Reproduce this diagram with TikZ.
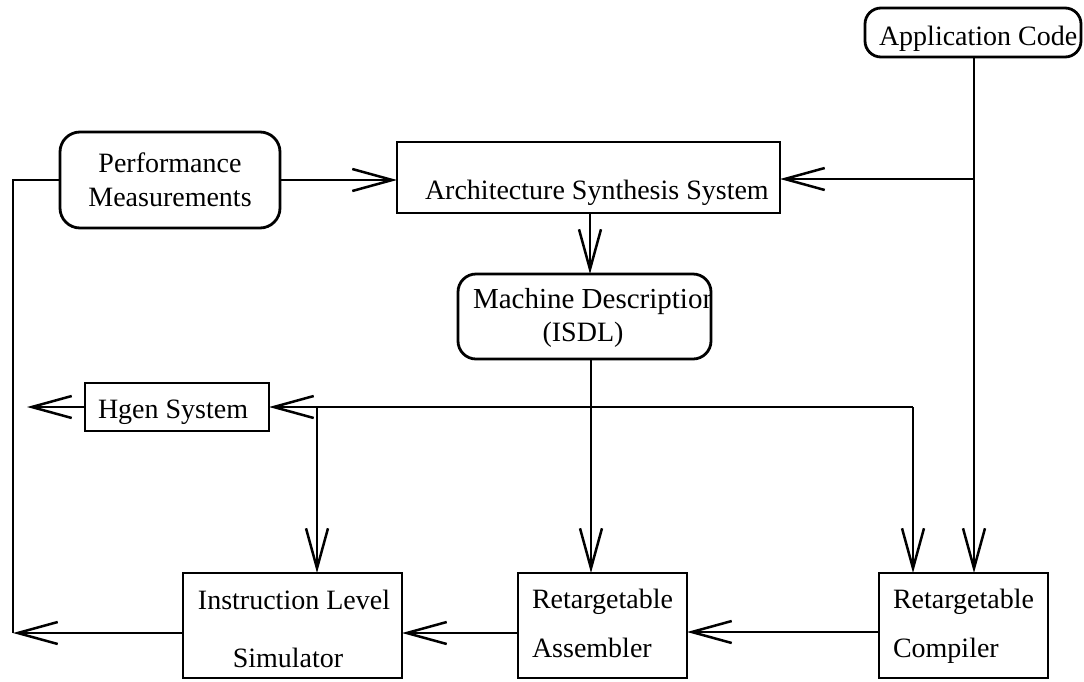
\documentclass[tikz,border=0pt]{standalone}
\usepackage{fontspec}
\setmainfont{Liberation Serif}
\usetikzlibrary{arrows.meta}
\begin{document}
\begin{tikzpicture}[x=1pt,y=-1pt,
  line width=2.5pt,
  every node/.style={inner sep=0pt,outer sep=0pt},
  sqbox/.style={draw,rectangle,line width=2.8pt},
  rbox/.style={draw,rectangle,rounded corners=16pt,line width=2.8pt},
  txt/.style={font=\fontsize{28}{34}\selectfont},
  flow/.style={-{Straight Barb[length=40pt,width=22pt,line width=2.5pt]}},
  ]
\useasboundingbox (0,0) rectangle (1084,681);

% boxes, given by their centres and sizes
\node[rbox,minimum width=216pt,minimum height=49pt] (app) at (973,32.5) {};
\node[rbox,minimum width=220pt,minimum height=96pt,rounded corners=20pt] (perf) at (170,180) {};
\node[sqbox,minimum width=383pt,minimum height=71pt] (arch) at (588.5,177.5) {};
\node[rbox,minimum width=253pt,minimum height=85pt,rounded corners=18pt] (md) at (584.5,316.5) {};
\node[sqbox,minimum width=184pt,minimum height=48pt] (hgen) at (177,407) {};
\node[sqbox,minimum width=219pt,minimum height=105pt] (ils) at (292.5,625.5) {};
\node[sqbox,minimum width=169pt,minimum height=105pt] (ra) at (602.5,625.5) {};
\node[sqbox,minimum width=169pt,minimum height=105pt] (rc) at (963.5,625.5) {};

% labels
\node[txt,anchor=base west] (appT) at (879,45) {Application Code};
\node[txt,anchor=base,align=center] (perfT) at (170,206) {Performance\\Measurements};
\node[txt,anchor=base west] (archT) at (425,199) {Architecture Synthesis System};
\begin{scope}
  % the long label runs into the right side of its box
  \clip ([xshift=1.4pt,yshift=-1.4pt]md.north west) rectangle ([xshift=-1.4pt,yshift=1.4pt]md.south east);
  \node[font=\fontsize{29}{34}\selectfont,anchor=base west] (mdT1) at (473,308) {Machine Description};
\end{scope}
\node[txt,anchor=base] (mdT2) at (583,341) {(ISDL)};
\node[txt,anchor=base west] (hgenT) at (98,418) {Hgen System};
\node[txt,anchor=base] (ilsT1) at (294,609) {Instruction Level};
\node[txt,anchor=base] (ilsT2) at (288,667) {Simulator};
\node[txt,anchor=base west] (raT1) at (532,608) {Retargetable};
\node[txt,anchor=base west] (raT2) at (532,657) {Assembler};
\node[txt,anchor=base west] (rcT1) at (893,608) {Retargetable};
\node[txt,anchor=base west] (rcT2) at (893,657) {Compiler};

% junctions and bends
\coordinate (appJ) at (974,179);
\coordinate (busR) at (913,407);
\coordinate (busL) at (317,407);
\coordinate (hgenOut) at (27,407);
\coordinate (loopB) at (13,633);
\coordinate (loopT) at (13,180);

% connectors
\draw[flow] (perf.east |- 0,180) -- (arch.west |- 0,180);
\draw[flow] (app.south -| appJ) -- (rc.north -| appJ);
\draw[flow] (appJ) -- (arch.east |- appJ);
\draw[flow] (arch.south -| 590,0) -- (md.north -| 590,0);
\draw[flow] (md.south -| 591,0) -- (ra.north -| 591,0);
\draw[flow] (busR) -- (hgen.east |- busR);
\draw[flow] (busR) -- (rc.north -| busR);
\draw[flow] (busL) -- (ils.north -| busL);
\draw[flow] (hgen.west |- hgenOut) -- (hgenOut);
\draw[flow] (rc.west |- 0,632) -- (ra.east |- 0,632);
\draw[flow] (ra.west |- 0,633) -- (ils.east |- 0,633);
\draw[flow] (ils.west |- loopB) -- (loopB);
\draw (loopB) -- (loopT) -- (perf.west |- loopT);
\end{tikzpicture}
\end{document}
